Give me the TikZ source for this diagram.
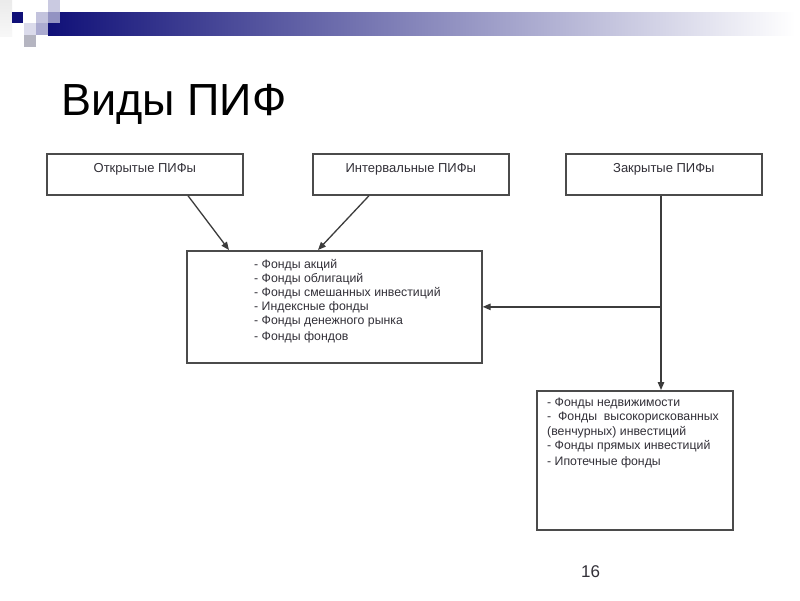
\documentclass[tikz,border=0pt]{standalone}
\usepackage{fontspec}
\setmainfont{Liberation Sans}
\usetikzlibrary{arrows.meta,calc}
\definecolor{navy}{RGB}{16,16,120}
\definecolor{txtgray}{RGB}{50,48,56}
\definecolor{linegray}{RGB}{75,75,75}
\tikzset{
  boxstyle/.style={draw=linegray, line width=1.7pt, fill=white, inner sep=0pt},
  boxtext/.style={text=txtgray, font=\fontsize{12.3}{14.2}\selectfont, inner sep=0pt},
  toptext/.style={text=txtgray, font=\fontsize{13}{15}\selectfont},
  arr/.style={draw=linegray!80!black, line width=1.3pt, -{Triangle[length=8pt,width=6.5pt]}},
}
\begin{document}
\begin{tikzpicture}[x=1pt,y=-1pt]
\useasboundingbox (0,0) rectangle (800,600);
\fill[white] (0,0) rectangle (800,600);
% decoration
\shade[left color=navy, right color=white] (48,12) rectangle (795,35);
\shade[top color=black!8, bottom color=black!3] (0,0) rectangle (12,36);
\fill[navy] (12,12) rectangle (23,23);
\fill[navy!22] (48,0) rectangle (60,12);
\fill[navy!25] (36,12) rectangle (48,23);
\fill[navy!45] (48,12) rectangle (60,23);
\fill[navy!15] (24,23) rectangle (36,35);
\fill[navy!35] (36,23) rectangle (48,35);
\fill[navy!40!black!30] (24,35) rectangle (36,47);
% title
\node[anchor=base west, inner sep=0pt] (title) at (61,115) {\fontsize{45}{50}\selectfont Виды ПИФ};
% top boxes
\node[boxstyle, toptext, minimum width=196pt, minimum height=41pt, anchor=north west] (open) at (46,153) {\raisebox{1.5pt}[0pt][0pt]{Открытые ПИФы}};
\node[boxstyle, toptext, minimum width=196pt, minimum height=41pt, anchor=north west] (inter) at (312,153) {\raisebox{1.5pt}[0pt][0pt]{Интервальные ПИФы}};
\node[boxstyle, toptext, minimum width=196pt, minimum height=41pt, anchor=north west] (closed) at (565,153) {\raisebox{1.5pt}[0pt][0pt]{Закрытые ПИФы}};
% middle box
\node[boxstyle, minimum width=295pt, minimum height=112pt, anchor=north west] (mid) at (186,250) {};
\node[boxtext, anchor=base west, align=left] (midtext) at (254,340.5) {- Фонды акций\\- Фонды облигаций\\- Фонды смешанных инвестиций\\- Индексные фонды\\- Фонды денежного рынка\\[1.5pt]- Фонды фондов};
% lower box
\node[boxstyle, minimum width=196pt, minimum height=139pt, anchor=north west] (low) at (536,390) {};
\node[boxtext, anchor=base west, align=left] (lowtext) at (547,465) {- Фонды недвижимости\\-\ \ Фонды\ \ высокорискованных\\(венчурных) инвестиций\\- Фонды прямых инвестиций\\[1.5pt]- Ипотечные фонды};
% connectors
\draw[arr] ([xshift=142pt]open.south west) -- ([xshift=43pt]mid.north west);
\draw[arr] ([xshift=57pt]inter.south west) -- ([xshift=132pt]mid.north west);
\coordinate (j) at ([xshift=96pt]closed.south west |- mid.east);
\draw[arr] ([xshift=96pt]closed.south west) -- ([xshift=125pt]low.north west);
\draw[arr] (j) -- (mid.east);
% page number
\node[anchor=base west, inner sep=0pt, text=txtgray] (pnum) at (581,577.5) {\fontsize{17}{20}\selectfont 16};
\end{tikzpicture}
\end{document}
